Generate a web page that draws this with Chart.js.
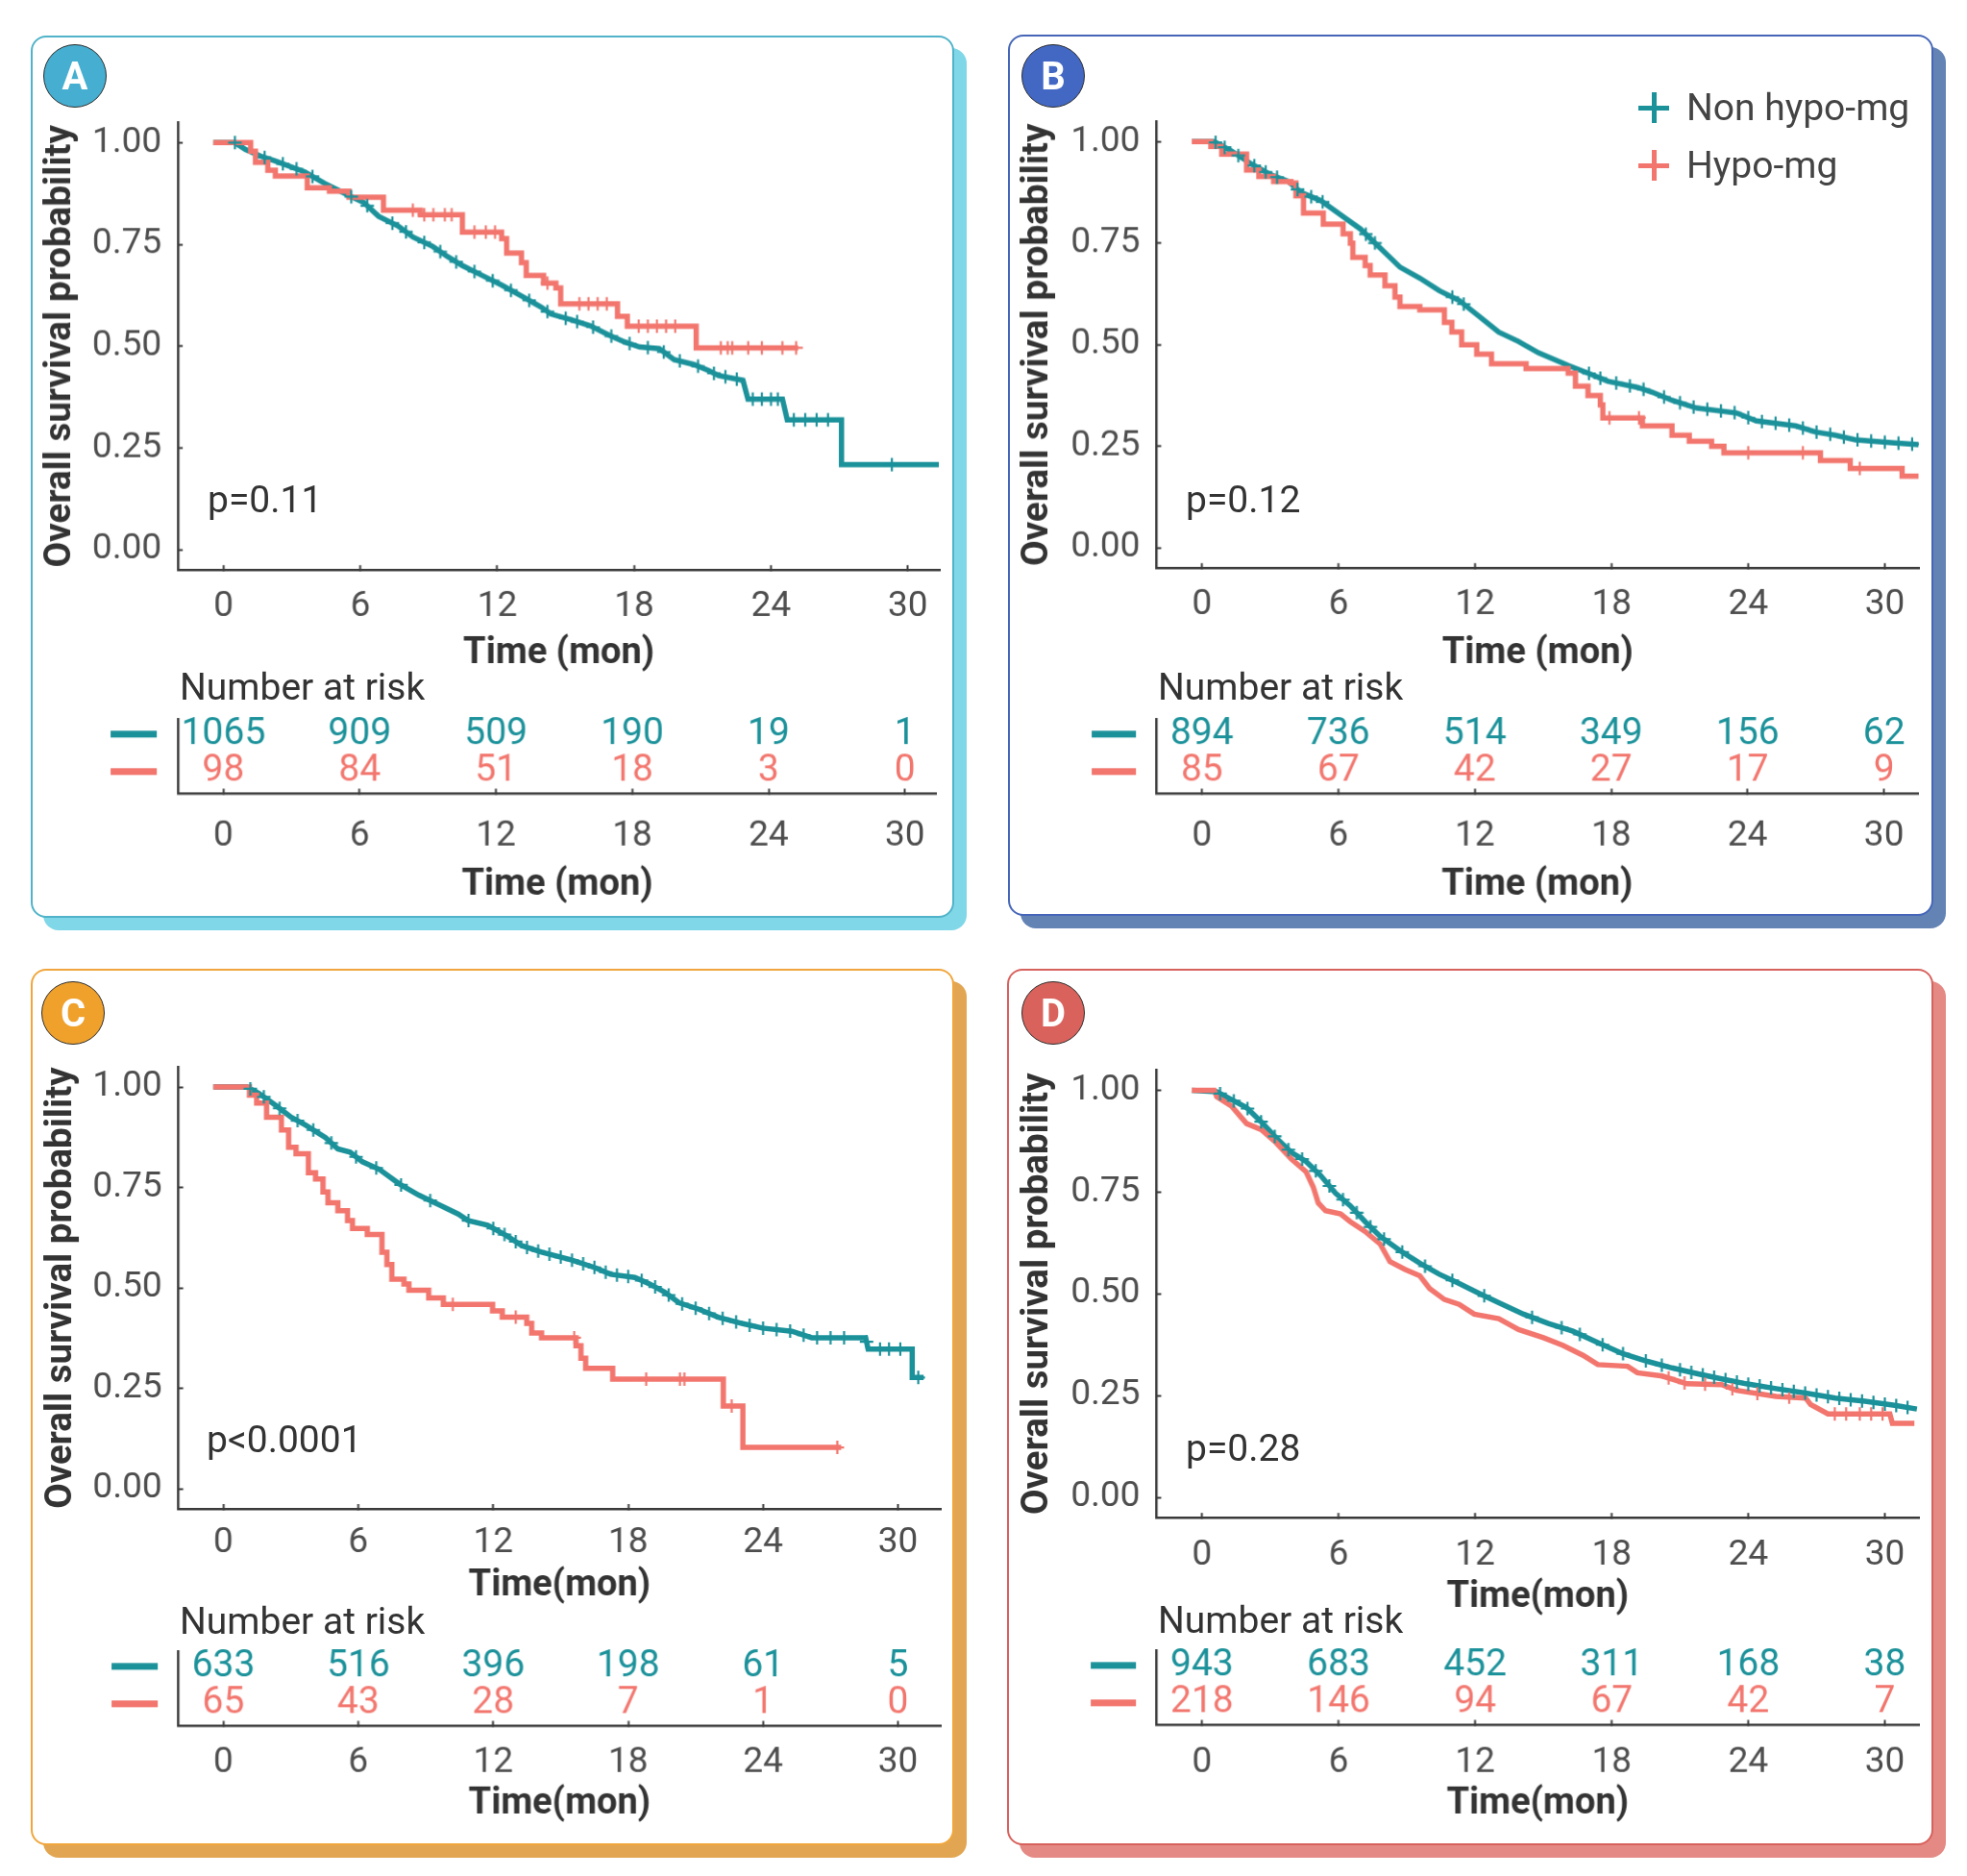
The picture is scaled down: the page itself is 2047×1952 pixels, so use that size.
<!DOCTYPE html>
<html>
<head>
<meta charset="utf-8">
<script src="https://cdn.jsdelivr.net/npm/chart.js@4.4.1/dist/chart.umd.min.js"></script>
<style>
  body { margin: 0; background: #fff; width: 2047px; height: 1952px; position: relative; overflow: hidden; font-family: Roboto, sans-serif; }
  .box { position: absolute; box-sizing: border-box; border: 2.5px solid; border-radius: 16px; background: #fff; }
  .badge { position: absolute; width: 66px; height: 66px; box-sizing: border-box; border-radius: 50%; border: 1.5px solid #2d2d2d;
           color: #fff; font: bold 40px Roboto; display: flex; align-items: center; justify-content: center; }
  .txt { position: absolute; white-space: nowrap; color: #333; font-size: 39px; line-height: 39px; }
  .bar { position: absolute; }
  canvas { position: absolute; }
</style>
</head>
<body>
<script>
// tick values shared by all panels
const monthTicks = [0, 6, 12, 18, 24, 30];
const survTicks = [0, 0.25, 0.5, 0.75, 1];
const groups = ["Non hypo-mg", "Hypo-mg"];

// Panel A
const aNonTime = [-0.45, 0.5, 0.97, 1.62, 2.27, 3.56, 4.43, 5.50, 6.15, 6.80, 7.66, 8.31, 9.17, 9.82, 10.47, 11.33, 12.19, 13.06, 13.92, 14.35,
  15.22, 16.08, 16.94, 17.59, 18.24, 19.10, 19.75, 20.61, 21.26, 21.69, 22.77, 22.99, 24.50, 24.71, 27.09, 27.09, 31.36];
const aNonSurv = [1, 1, 0.983, 0.967, 0.955, 0.928, 0.90, 0.87, 0.853, 0.819, 0.795, 0.768, 0.745, 0.72, 0.698, 0.674, 0.65, 0.623, 0.596, 0.579,
  0.565, 0.55, 0.526, 0.51, 0.498, 0.494, 0.467, 0.455, 0.44, 0.428, 0.416, 0.37, 0.37, 0.319, 0.319, 0.209, 0.209];
const aHypoTime = [-0.45, 1.19, 1.40, 1.94, 2.27, 3.67, 4.64, 5.50, 7.01, 8.63, 10.47, 12.19, 12.41, 13.06, 13.27, 14.03, 14.57, 14.78, 17.27, 17.70, 20.72, 25.19];
const aHypoSurv = [1, 0.979, 0.952, 0.932, 0.918, 0.889, 0.881, 0.866, 0.834, 0.823, 0.78, 0.764, 0.729, 0.705, 0.674, 0.655, 0.643, 0.604, 0.573, 0.549, 0.496, 0.496];
const aNonCens = [0.5, 1.8, 2.6, 3.2, 3.9, 5.6, 6.3, 7.4, 8.0, 8.8, 9.5, 10.2, 11.0, 11.8, 12.6, 13.4, 14.2, 15.0, 15.5, 16.2, 17.0, 17.8,
  18.6, 19.3, 20.0, 20.8, 21.5, 22.0, 22.5, 23.2, 23.6, 24.0, 24.3, 25.0, 25.5, 26.0, 26.5, 29.3];
const aHypoCens = [8.3, 8.8, 9.2, 9.7, 10.0, 11.0, 11.5, 11.9, 14.2, 15.6, 16.0, 16.4, 16.8, 18.2, 18.6, 19.0, 19.4, 19.8, 21.8, 22.1, 22.3, 23.0, 23.6, 24.5, 25.1];
const aRiskNon = [1065, 909, 509, 190, 19, 1];
const aRiskHypo = [98, 84, 51, 18, 3, 0];

// Panel B
const bNonTime = [-0.45, 0.54, 1.30, 2.17, 3.04, 3.80, 4.35, 5.22, 6.09, 6.96, 7.83, 8.70, 9.57, 10.43, 11.30, 12.17, 13.04, 13.91, 14.78, 16.09,
  16.96, 17.83, 19.13, 19.78, 20.65, 21.74, 23.48, 24.35, 26.09, 26.96, 27.83, 28.70, 30.43, 31.48];
const bNonSurv = [1, 1, 0.977, 0.945, 0.918, 0.902, 0.875, 0.855, 0.82, 0.785, 0.738, 0.691, 0.664, 0.633, 0.609, 0.570, 0.531, 0.508, 0.48, 0.449,
  0.43, 0.41, 0.395, 0.383, 0.363, 0.344, 0.332, 0.3125, 0.30, 0.285, 0.277, 0.266, 0.258, 0.254];
const bHypoTime = [-0.45, 0.39, 0.87, 1.96, 2.50, 3.15, 3.91, 4.13, 4.46, 5.33, 6.20, 6.52, 6.63, 7.17, 7.39, 8.04, 8.48, 8.70, 9.57, 10.65,
  10.98, 11.41, 12.07, 12.72, 14.24, 16.09, 16.41, 16.96, 17.50, 17.61, 19.35, 20.65, 21.41, 22.39, 22.93, 27.17, 28.48, 30.76, 31.48];
const bHypoSurv = [1, 0.988, 0.969, 0.93, 0.914, 0.902, 0.898, 0.867, 0.824, 0.797, 0.773, 0.75, 0.715, 0.695, 0.672, 0.645, 0.617, 0.594, 0.586, 0.555,
  0.531, 0.50, 0.477, 0.453, 0.441, 0.43, 0.398, 0.375, 0.352, 0.32, 0.30, 0.277, 0.262, 0.25, 0.234, 0.215, 0.195, 0.176, 0.176];
const bNonCens = [0.6, 1.0, 1.6, 2.3, 2.8, 3.3, 4.2, 4.8, 5.3, 7.2, 7.6, 11.0, 11.5, 17.0, 17.5, 18.2, 18.8, 19.4, 20.3, 21.0, 21.6, 22.2,
  22.8, 23.4, 24.0, 24.6, 25.2, 25.8, 26.4, 27.0, 27.6, 28.2, 28.8, 29.4, 30.0, 30.6, 31.2];
const bHypoCens = [17.9, 19.2, 24.0, 26.4, 28.9];
const bRiskNon = [894, 736, 514, 349, 156, 62];
const bRiskHypo = [85, 67, 42, 27, 17, 9];

// Panel C
const cNonTime = [-0.45, 1.05, 1.59, 2.36, 3.01, 3.67, 4.54, 5.09, 5.63, 6.18, 6.94, 7.82, 8.69, 9.56, 10.44, 10.87, 11.75, 12.62, 13.28, 14.15,
  15.46, 16.55, 17.21, 18.30, 18.95, 19.61, 20.26, 21.14, 22.01, 23.10, 23.97, 25.28, 26.16, 28.56, 28.67, 30.63, 30.63, 31.14];
const cNonSurv = [1, 1, 0.984, 0.953, 0.925, 0.905, 0.874, 0.846, 0.838, 0.814, 0.795, 0.759, 0.731, 0.708, 0.684, 0.668, 0.656, 0.629, 0.605, 0.589,
  0.57, 0.55, 0.534, 0.526, 0.51, 0.49, 0.463, 0.447, 0.427, 0.411, 0.40, 0.392, 0.376, 0.376, 0.348, 0.348, 0.277, 0.277];
const cHypoTime = [-0.45, 1.16, 1.48, 1.92, 2.58, 2.90, 3.23, 3.78, 4.10, 4.43, 4.65, 5.09, 5.52, 5.74, 6.40, 7.05, 7.27, 7.49, 8.03, 8.25,
  9.13, 9.78, 11.97, 12.40, 13.49, 13.71, 14.15, 15.68, 15.90, 16.11, 17.31, 22.23, 23.10, 27.47];
const cHypoSurv = [1, 0.98, 0.96, 0.925, 0.893, 0.85, 0.834, 0.787, 0.771, 0.739, 0.712, 0.692, 0.668, 0.648, 0.633, 0.589, 0.558, 0.522, 0.51, 0.494,
  0.475, 0.459, 0.443, 0.427, 0.412, 0.388, 0.376, 0.356, 0.325, 0.30, 0.273, 0.206, 0.103, 0.103];
const cNonCens = [1.2, 1.8, 2.5, 3.3, 4.0, 4.8, 5.9, 6.8, 7.9, 9.2, 10.9, 12.0, 12.5, 13.0, 13.5, 14.0, 14.5, 15.0, 15.5, 16.0, 16.5, 17.0,
  17.5, 18.0, 18.6, 19.2, 19.8, 20.4, 21.0, 21.6, 22.2, 22.8, 23.4, 24.0, 24.6, 25.2, 25.8, 26.4, 27.0, 27.6, 28.6, 29.2, 29.6, 30.1, 30.9];
const cHypoCens = [10.2, 13.0, 15.6, 18.8, 20.3, 20.5, 22.6, 27.3];
const cRiskNon = [633, 516, 396, 198, 61, 5];
const cRiskHypo = [65, 43, 28, 7, 1, 0];

// Panel D
const dNonTime = [-0.45, 0.65, 1.30, 1.96, 2.61, 3.26, 3.91, 4.57, 5.22, 5.87, 6.52, 7.17, 7.83, 8.70, 9.57, 10.43, 11.30, 12.17, 13.04, 14.13,
  15.22, 16.30, 17.39, 18.48, 19.57, 20.65, 21.74, 22.83, 23.91, 25.22, 26.52, 27.83, 29.13, 30.43, 31.41];
const dNonSurv = [1, 0.996, 0.977, 0.957, 0.922, 0.883, 0.848, 0.825, 0.79, 0.747, 0.716, 0.677, 0.641, 0.606, 0.575, 0.548, 0.525, 0.501, 0.478, 0.45,
  0.427, 0.408, 0.38, 0.353, 0.334, 0.318, 0.304, 0.291, 0.279, 0.267, 0.256, 0.244, 0.236, 0.226, 0.217];
const dHypoTime = [-0.45, 0.54, 0.65, 1.30, 1.96, 2.61, 3.26, 3.91, 4.57, 4.89, 5.11, 5.43, 6.09, 6.52, 7.17, 7.83, 8.26, 8.91, 9.57, 10.0,
  10.65, 11.30, 11.96, 13.04, 13.91, 15.0, 15.87, 16.74, 17.39, 18.70, 19.13, 20.22, 21.30, 22.83, 23.48, 25.22, 26.52, 26.74, 27.50, 30.22, 30.33, 31.30];
const dHypoSurv = [1, 1, 0.984, 0.961, 0.918, 0.903, 0.871, 0.832, 0.80, 0.762, 0.723, 0.704, 0.696, 0.677, 0.653, 0.622, 0.579, 0.56, 0.544, 0.513,
  0.486, 0.474, 0.45, 0.439, 0.412, 0.392, 0.373, 0.349, 0.326, 0.322, 0.306, 0.298, 0.279, 0.277, 0.263, 0.248, 0.244, 0.228, 0.205, 0.205, 0.182, 0.182];
const dNonCens = [0.8, 1.4, 2.0, 2.6, 3.2, 3.8, 4.4, 5.0, 5.6, 6.2, 6.8, 7.4, 8.0, 8.8, 9.8, 11.0, 12.4, 14.5, 15.8, 16.6, 17.6, 18.5, 19.5,
  20.2, 21.0, 21.5, 22.0, 22.5, 23.0, 23.5, 24.0, 24.5, 25.0, 25.5, 26.0, 26.5, 27.0, 27.5, 28.0, 28.5, 29.0, 29.5, 30.0, 30.5, 31.0];
const dHypoCens = [20.5, 21.2, 22.1, 23.3, 24.4, 25.8, 27.8, 28.3, 28.9, 29.4, 29.9];
const dRiskNon = [943, 683, 452, 311, 168, 38];
const dRiskHypo = [218, 146, 94, 67, 42, 7];

const TEAL = "#1b919a";
const SALMON = "#f2766e";
const AXIS = "#3a3a3a";

Chart.defaults.font.family = "Roboto";

// layout of each panel (page pixels)
const panels = [
  { key: "A", nonT: aNonTime, nonS: aNonSurv, hypoT: aHypoTime, hypoS: aHypoSurv, nonC: aNonCens, hypoC: aHypoCens,
    riskNon: aRiskNon, riskHypo: aRiskHypo, hypoStep: true, pText: "p=0.11", xTitle: "Time (mon)",
    box: [32, 37, 993, 955], edge: "#50b3c9", shade: "#80d7e7", fill: "#46aed0", badge: [78, 79],
    area: [185, 123, 977.6, 593], xMax: 31.4, yTitleX: 63.5, tickPad: 21, xTitleY: 680, pPos: [216, 520],
    risk: [748, 826], riskPad: 27, riskTitleY: 921, narPos: [187, 715], legLine: [115, 163] },
  { key: "B", nonT: bNonTime, nonS: bNonSurv, hypoT: bHypoTime, hypoS: bHypoSurv, nonC: bNonCens, hypoC: bHypoCens,
    riskNon: bRiskNon, riskHypo: bRiskHypo, hypoStep: true, pText: "p=0.12", xTitle: "Time (mon)", legend: true,
    box: [1049, 36, 2012, 953], edge: "#4566b8", shade: "#6483b5", fill: "#4268c4", badge: [1096, 79],
    area: [1203.3, 122, 1996.8, 591], xMax: 31.5, yTitleX: 1080, tickPad: 21, xTitleY: 680, pPos: [1234, 520],
    risk: [748, 826], riskPad: 27, riskTitleY: 921, narPos: [1205, 715], legLine: [1136, 1182] },
  { key: "C", nonT: cNonTime, nonS: cNonSurv, hypoT: cHypoTime, hypoS: cHypoSurv, nonC: cNonCens, hypoC: cHypoCens,
    riskNon: cRiskNon, riskHypo: cRiskHypo, hypoStep: true, pText: "p<0.0001", xTitle: "Time(mon)",
    box: [32, 1008, 993, 1920], edge: "#f0a63c", shade: "#e2a652", fill: "#efa12c", badge: [76, 1054],
    area: [185.5, 1105.6, 978.9, 1569.8], xMax: 31.9, yTitleX: 64, tickPad: 19, xTitleY: 1650, pPos: [215, 1498],
    risk: [1718, 1796], riskPad: 21, riskTitleY: 1877, narPos: [187, 1687], legLine: [116, 164] },
  { key: "D", nonT: dNonTime, nonS: dNonSurv, hypoT: dHypoTime, hypoS: dHypoSurv, nonC: dNonCens, hypoC: dHypoCens,
    riskNon: dRiskNon, riskHypo: dRiskHypo, hypoStep: false, pText: "p=0.28", xTitle: "Time(mon)",
    box: [1048, 1008, 2012, 1920], edge: "#d7615d", shade: "#e48984", fill: "#d9625c", badge: [1096, 1054],
    area: [1203.3, 1108.6, 1996.8, 1579], xMax: 31.5, yTitleX: 1080, tickPad: 22, xTitleY: 1662, pPos: [1234, 1507],
    risk: [1717, 1795], riskPad: 22, riskTitleY: 1877, narPos: [1205, 1686], legLine: [1135, 1182] }
];

function el(tag, cls, css, text) {
  const e = document.createElement(tag);
  if (cls) e.className = cls;
  Object.assign(e.style, css);
  if (text !== undefined) e.textContent = text;
  document.body.appendChild(e);
  return e;
}

function canvasAt(l, t, w, h) {
  const c = el("canvas", null, { left: l + "px", top: t + "px", width: w + "px", height: h + "px" });
  c.width = w; c.height = h;
  return c;
}

// survival value at time t
function survAt(T, S, t, stepped) {
  let i = 0;
  while (i < T.length - 1 && T[i + 1] <= t) i++;
  if (stepped || i === T.length - 1) return S[i];
  const f = (t - T[i]) / (T[i + 1] - T[i]);
  return S[i] + f * (S[i + 1] - S[i]);
}

const fixTicks = vals => s => { s.ticks = vals.map(v => ({ value: v })); };

function xAxis(p, pad, height, title) {
  return {
    type: "linear", min: -2, max: p.xMax,
    afterBuildTicks: fixTicks(monthTicks),
    afterFit: s => { s.height = height; },
    ticks: { font: { size: 37 }, color: "#4d4d4d", padding: pad, maxRotation: 0, autoSkip: false },
    grid: { display: true, drawOnChartArea: false, tickLength: -5, tickColor: AXIS, tickWidth: 2 },
    border: { display: true, color: AXIS, width: 2.5 },
    title: { display: true, text: title, font: { size: 38, weight: "bold" }, color: "#333", padding: 0 }
  };
}

const riskText = {
  id: "riskText",
  afterDatasetsDraw(chart, args, opts) {
    const ctx = chart.ctx;
    ctx.save();
    ctx.font = "39px Roboto";
    ctx.textAlign = "center";
    ctx.textBaseline = "middle";
    chart.data.datasets.forEach((ds, i) => {
      const meta = chart.getDatasetMeta(i);
      ctx.fillStyle = ds.borderColor;
      meta.data.forEach((pt, j) => ctx.fillText(String(ds.data[j].n), pt.x, pt.y));
      const y = chart.scales.y.getPixelForValue(ds.data[0].y);
      ctx.strokeStyle = ds.borderColor;
      ctx.lineWidth = 7;
      ctx.beginPath();
      ctx.moveTo(opts.x0, y);
      ctx.lineTo(opts.x1, y);
      ctx.stroke();
    });
    ctx.restore();
  }
};

panels.forEach(p => {
  const [bl, bt, br, bb] = p.box;
  el("div", "box", { left: bl + "px", top: bt + "px", width: (br - bl) + "px", height: (bb - bt) + "px",
    borderColor: p.edge, boxShadow: "13px 13px 0 0 " + p.shade });
});

panels.forEach(p => {
  const [bl, bt, br, bb] = p.box;
  const [al, at, ar, ab] = p.area;

  // survival plot
  const cl = bl + 3, ct = at - 40, cr = ar + 12, cb = p.xTitleY + 22.8;
  const padL = p.yTitleX - 23.1 - cl;
  const yW = al - cl - padL;
  const xH = cb - ab;
  const line = (T, S, color, stepped) => ({
    type: "line", data: T.map((t, i) => ({ x: t, y: S[i] })), borderColor: color, borderWidth: 5.5,
    pointRadius: 0, fill: false, tension: 0, stepped: stepped ? "before" : false
  });
  const marks = (C, T, S, color, stepped) => ({
    type: "scatter", data: C.map(t => ({ x: t, y: survAt(T, S, t, stepped) })), pointStyle: "cross",
    pointRadius: 7, borderWidth: 2.2, borderColor: color, backgroundColor: color
  });
  new Chart(canvasAt(cl, ct, cr - cl, cb - ct), {
    type: "line",
    data: { datasets: [
      marks(p.nonC, p.nonT, p.nonS, TEAL, false),
      marks(p.hypoC, p.hypoT, p.hypoS, SALMON, p.hypoStep),
      line(p.hypoT, p.hypoS, SALMON, p.hypoStep),
      line(p.nonT, p.nonS, TEAL, false)
    ] },
    options: {
      responsive: false, animation: false, devicePixelRatio: 1,
      layout: { padding: { left: padL, top: 40, right: 12, bottom: 0 } },
      plugins: { legend: { display: false }, tooltip: { enabled: false } },
      scales: {
        x: xAxis(p, p.tickPad, xH, p.xTitle),
        y: {
          type: "linear", min: -0.05, max: 1.05,
          afterBuildTicks: fixTicks(survTicks),
          afterFit: s => { s.width = yW; },
          ticks: { font: { size: 37 }, color: "#4d4d4d", padding: 22, callback: v => v.toFixed(2) },
          grid: { display: true, drawOnChartArea: false, tickLength: -5, tickColor: AXIS, tickWidth: 2 },
          border: { display: true, color: AXIS, width: 2.5 },
          title: { display: true, text: "Overall survival probability", font: { size: 38.5, weight: "bold" }, color: "#333", padding: 0 }
        }
      }
    }
  });

  // risk table
  const [rt, rb] = p.risk;
  const rct = rt - 12, rcb = p.riskTitleY + 22.8;
  const pts = (vals, row) => vals.map((n, i) => ({ x: monthTicks[i], y: row, n: n }));
  new Chart(canvasAt(cl, rct, cr - cl, rcb - rct), {
    type: "scatter",
    data: { datasets: [
      { label: groups[0], data: pts(p.riskNon, 2), borderColor: TEAL, pointRadius: 0 },
      { label: groups[1], data: pts(p.riskHypo, 1), borderColor: SALMON, pointRadius: 0 }
    ] },
    plugins: [riskText],
    options: {
      responsive: false, animation: false, devicePixelRatio: 1,
      layout: { padding: { left: 0, top: 12, right: 12, bottom: 0 } },
      plugins: { legend: { display: false }, tooltip: { enabled: false },
        riskText: { x0: p.legLine[0] - cl, x1: p.legLine[1] - cl } },
      scales: {
        x: xAxis(p, p.riskPad, rcb - rb, p.xTitle),
        y: {
          type: "linear", min: 0.417, max: 2.407,
          afterFit: s => { s.width = al - cl; },
          ticks: { display: false },
          grid: { display: false },
          border: { display: true, color: AXIS, width: 2.5 }
        }
      }
    }
  });

  // labels
  el("div", "badge", { left: (p.badge[0] - 33) + "px", top: (p.badge[1] - 33) + "px", background: p.fill }, p.key);
  el("div", "txt", { left: p.pPos[0] + "px", top: (p.pPos[1] - 19) + "px" }, p.pText);
  el("div", "txt", { left: p.narPos[0] + "px", top: (p.narPos[1] - 19) + "px" }, "Number at risk");

  if (p.legend) {
    [TEAL, SALMON].forEach((c, i) => {
      const cy = 112 + i * 60;
      el("div", "bar", { left: "1705px", top: (cy - 2.5) + "px", width: "32px", height: "5px", background: c });
      el("div", "bar", { left: "1718.5px", top: (cy - 16) + "px", width: "5px", height: "32px", background: c });
      el("div", "txt", { left: "1755px", top: (cy - 19) + "px", color: "#444" }, groups[i]);
    });
  }
});
</script>
</body>
</html>
